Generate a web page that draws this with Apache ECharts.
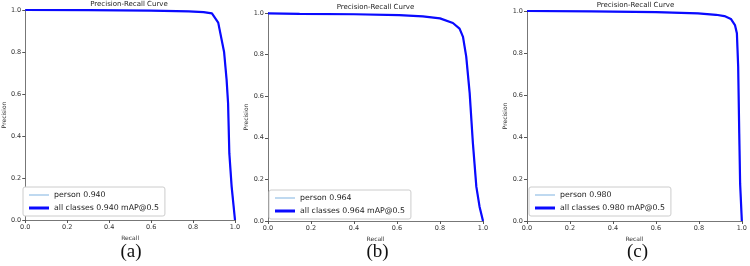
<!DOCTYPE html>
<html lang="en">
<head>
  <meta charset="UTF-8">
  <title>Precision-Recall Curve</title>
  <style>
    body { margin: 0; background: #fff; }
    #chart { width: 750px; height: 266px; }
  </style>
</head>
<body>
  <div id="chart"></div>
  <script src="https://cdn.jsdelivr.net/npm/echarts@6/dist/echarts.min.js"></script>
  <script>
    // curve points: [recall, precision]
    var curveA = [[0, 1], [0.3, 0.999], [0.6, 0.997], [0.78, 0.993], [0.85, 0.99], [0.89, 0.984],
      [0.92, 0.94], [0.948, 0.8], [0.96, 0.667], [0.967, 0.556], [0.973, 0.317], [0.984, 0.159], [1, 0]];
    var curveB = [[0, 0.998], [0.147, 0.996], [0.4, 0.994], [0.61, 0.99], [0.72, 0.984], [0.8, 0.974],
      [0.86, 0.952], [0.891, 0.925], [0.907, 0.885], [0.922, 0.79], [0.938, 0.615], [0.953, 0.374],
      [0.969, 0.165], [0.984, 0.069], [1, 0]];
    var curveC = [[0, 1], [0.3, 0.998], [0.6, 0.995], [0.796, 0.989], [0.88, 0.982], [0.919, 0.976],
      [0.949, 0.962], [0.968, 0.933], [0.977, 0.894], [0.983, 0.735], [0.988, 0.417], [0.992, 0.179], [1, 0]];
    var curves = [curveA, curveB, curveC];
    var scores = ['0.940', '0.964', '0.980'];
    var panelLabels = ['(a)', '(b)', '(c)'];
    var tickLabels = ['0.0', '0.2', '0.4', '0.6', '0.8', '1.0'];

    var grids = [
      { left: 23, top: 10, width: 212, height: 210 },
      { left: 268, top: 13, width: 215, height: 208 },
      { left: 527, top: 11, width: 217, height: 210 }
    ];
    var legendPos = [{ left: 23, top: 187 }, { left: 269, top: 190 }, { left: 529, top: 187 }];
    var yNameGap = [17, 18, 18];

    var axisCommon = {
      min: 0, max: 1, interval: 0.2,
      axisLine: { show: true, lineStyle: { color: '#777', width: 1 } },
      axisTick: { show: true, length: 3, lineStyle: { color: '#555' } },
      splitLine: { show: false },
      axisLabel: {
        fontSize: 6.5, color: '#333', fontFamily: 'DejaVu Sans', margin: 4,
        formatter: function (v) { return tickLabels[Math.round(v * 5)]; }
      },
      nameTextStyle: { fontSize: 6, color: '#333', fontFamily: 'DejaVu Sans' },
      nameLocation: 'middle'
    };

    var xAxes = [], yAxes = [], series = [], titles = [], legends = [];
    curves.forEach(function (c, i) {
      xAxes.push(Object.assign({}, axisCommon, { type: 'value', gridIndex: i, name: 'Recall', nameGap: 10 }));
      yAxes.push(Object.assign({}, axisCommon, { type: 'value', gridIndex: i, name: 'Precision', nameGap: yNameGap[i] }));
      // mirror axes for the closed frame
      xAxes.push({ type: 'value', gridIndex: i, position: 'top', min: 0, max: 1,
        axisLine: { show: true, lineStyle: { color: '#777' } }, axisTick: { show: false },
        axisLabel: { show: false }, splitLine: { show: false } });
      yAxes.push({ type: 'value', gridIndex: i, position: 'right', min: 0, max: 1,
        axisLine: { show: true, lineStyle: { color: '#777' } }, axisTick: { show: false },
        axisLabel: { show: false }, splitLine: { show: false } });

      var personName = 'person ' + scores[i];
      var allName = 'all classes ' + scores[i] + ' mAP@0.5';
      series.push({
        name: personName, type: 'line', xAxisIndex: i * 2, yAxisIndex: i * 2,
        data: c, symbol: 'none', lineStyle: { color: '#7fb2e0', width: 1 }, itemStyle: { color: '#7fb2e0' }
      });
      series.push({
        name: allName, type: 'line', xAxisIndex: i * 2, yAxisIndex: i * 2,
        data: c, symbol: 'none', lineStyle: { color: '#0a0aff', width: 2.2 }, itemStyle: { color: '#0a0aff' }
      });

      var g = grids[i];
      titles.push({
        text: 'Precision-Recall Curve', left: g.left + g.width / 2, top: g.top - 9, textAlign: 'center',
        padding: 0,
        textStyle: { fontSize: 7, fontWeight: 'normal', color: '#222', fontFamily: 'DejaVu Sans' }
      });
      titles.push({
        text: panelLabels[i], left: g.left + g.width / 2 + 2, top: 243, textAlign: 'center', padding: 0,
        textStyle: { fontSize: 19, fontWeight: 'normal', color: '#111', fontFamily: 'Liberation Serif' }
      });
      legends.push({
        data: [
          { name: personName, icon: 'path://M0,0H20V1H0Z' },
          { name: allName, icon: 'path://M0,0H20V3H0Z' }
        ],
        orient: 'vertical',
        left: legendPos[i].left, top: legendPos[i].top,
        itemWidth: 20, itemHeight: 8, itemGap: 5, padding: [4, 6, 4, 6],
        itemSymbolKeepAspect: true,
        borderColor: '#ccc', borderWidth: 1, borderRadius: 2, backgroundColor: '#fff',
        textStyle: { fontSize: 7.8, color: '#222', fontFamily: 'DejaVu Sans' },
        selectedMode: false
      });
    });

    var chart = echarts.init(document.getElementById('chart'));
    chart.setOption({
      animation: false,
      title: titles,
      legend: legends,
      grid: grids,
      xAxis: xAxes,
      yAxis: yAxes,
      series: series
    });
  </script>
</body>
</html>
